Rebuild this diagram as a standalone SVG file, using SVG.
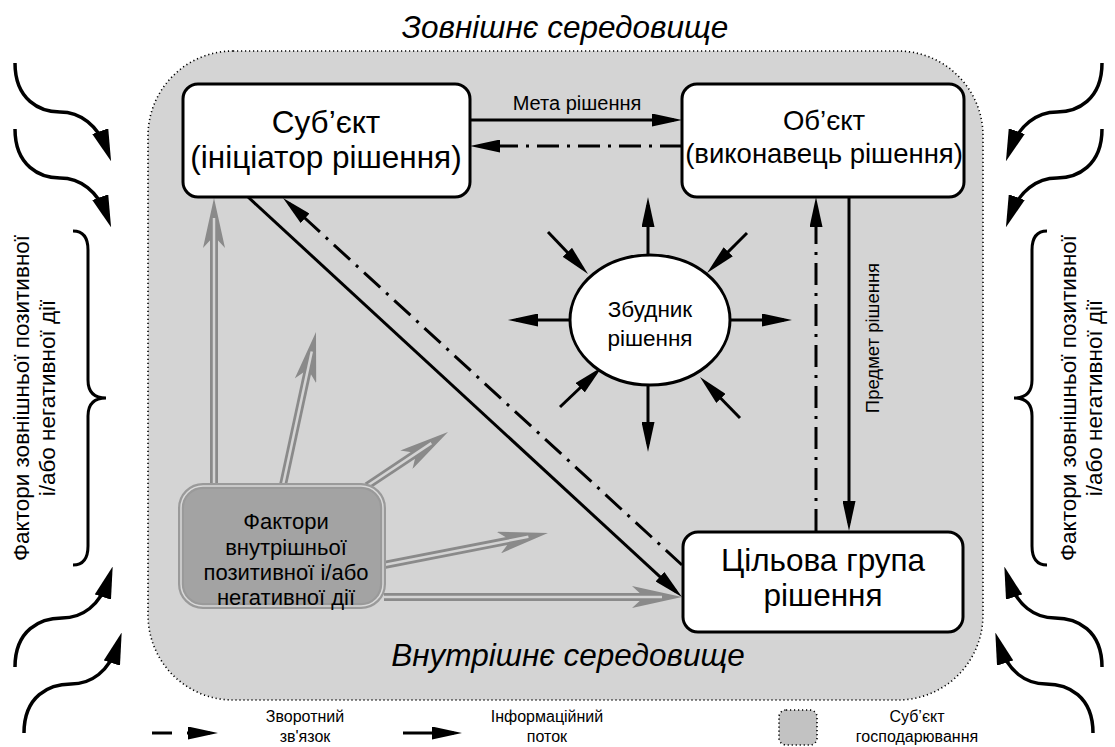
<svg xmlns="http://www.w3.org/2000/svg" width="1115" height="747" viewBox="0 0 1115 747">
<style>
text{font-family:"Liberation Sans",Arial,sans-serif;fill:#000}
.ln{stroke:#000;stroke-width:3;fill:none}
.dd{stroke:#000;stroke-width:3;fill:none;stroke-dasharray:22 8 3 8}
.node{fill:#fff;stroke:#000;stroke-width:3}
.go{stroke:#8a8a8a;stroke-width:8;fill:none}
.gi{stroke:#d4d4d4;stroke-width:2.5;fill:none}
.cv{stroke:#000;stroke-width:3.5;fill:none}
</style>
<defs>
<marker id="ah" viewBox="0 0 30 13" refX="22" refY="6.5" markerWidth="30" markerHeight="13" markerUnits="userSpaceOnUse" orient="auto"><path d="M0,0 L30,6.5 L0,13 Z" fill="#000"/></marker>
<marker id="ch" viewBox="0 0 32 17" refX="20" refY="8.5" markerWidth="32" markerHeight="17" markerUnits="userSpaceOnUse" orient="auto"><path d="M0,0 L32,8.5 L0,17 Z" fill="#000"/></marker>
<marker id="gh" viewBox="0 0 50 22" refX="20" refY="11" markerWidth="50" markerHeight="22" markerUnits="userSpaceOnUse" orient="auto"><path d="M0,0 L50,11 L0,22 L12,11 Z" fill="#8a8a8a"/></marker>
</defs>
<rect width="1115" height="747" fill="#fff"/>
<g id="environment">
<rect x="148" y="51" width="835" height="649" rx="85" ry="85" fill="#d4d4d4" stroke="#000" stroke-width="1.6" stroke-dasharray="1.2 2.8"/>
<text x="565" y="38" font-size="31.5" font-style="italic" text-anchor="middle">Зовнішнє середовище</text>
<text x="568" y="666" font-size="31.5" font-style="italic" text-anchor="middle">Внутрішнє середовище</text>
</g>
<g id="external-factors">
<path class="cv" d="M15,63 C15,100 40,112 60,112 C80,112 98,125 107,150" marker-end="url(#ch)"/>
<path class="cv" d="M15,129 C15,166 40,178 60,178 C80,178 98,191 107,216" marker-end="url(#ch)"/>
<path class="cv" d="M15,667 C15,630 40,618 62,618 C82,618 100,606 109,578" marker-end="url(#ch)"/>
<path class="cv" d="M24,733 C24,696 49,684 71,684 C91,684 109,672 118,644" marker-end="url(#ch)"/>
<path class="cv" d="M1102,63 C1102,100 1077,112 1057,112 C1037,112 1019,125 1010,150" marker-end="url(#ch)"/>
<path class="cv" d="M1102,129 C1102,166 1077,178 1057,178 C1037,178 1019,191 1010,216" marker-end="url(#ch)"/>
<path class="cv" d="M1102,667 C1102,630 1077,618 1055,618 C1035,618 1017,606 1008,578" marker-end="url(#ch)"/>
<path class="cv" d="M1093,733 C1093,696 1068,684 1046,684 C1026,684 1008,672 999,644" marker-end="url(#ch)"/>
<path class="ln" d="M73,231 Q88,231 88,250 L88,380 Q88,398 106,398 Q88,398 88,416 L88,546 Q88,565 73,565"/>
<path class="ln" d="M1047,231 Q1032,231 1032,250 L1032,380 Q1032,398 1014,398 Q1032,398 1032,416 L1032,546 Q1032,565 1047,565"/>
<text transform="translate(29,398) rotate(-90)" font-size="22.5" text-anchor="middle">Фактори зовнішньої позитивної</text>
<text transform="translate(55,398) rotate(-90)" font-size="22.5" text-anchor="middle">і/або негативної дії</text>
<text transform="translate(1076,398) rotate(-90)" font-size="22.5" text-anchor="middle">Фактори зовнішньої позитивної</text>
<text transform="translate(1102,398) rotate(-90)" font-size="22.5" text-anchor="middle">і/або негативної дії</text>
</g>
<g id="connectors">
<line class="ln" x1="470" y1="120" x2="674" y2="120" marker-end="url(#ah)"/>
<line class="dd" x1="682" y1="146" x2="478" y2="146" marker-end="url(#ah)"/>
<text x="577" y="110" font-size="20" text-anchor="middle">Мета рішення</text>
<line class="ln" x1="849" y1="196" x2="849" y2="523" marker-end="url(#ah)"/>
<line class="dd" x1="816" y1="531" x2="816" y2="205" marker-end="url(#ah)"/>
<text transform="translate(879,338) rotate(-90)" font-size="18.5" text-anchor="middle">Предмет рішення</text>
<line class="ln" x1="248" y1="197" x2="676.1" y2="591.6" marker-end="url(#ah)"/>
<line class="dd" x1="682" y1="565" x2="288.9" y2="203.4" marker-end="url(#ah)"/>
<line class="ln" x1="648" y1="255" x2="648" y2="205" marker-end="url(#ah)"/>
<line class="ln" x1="648" y1="385" x2="648" y2="444" marker-end="url(#ah)"/>
<line class="ln" x1="570" y1="320" x2="516" y2="320" marker-end="url(#ah)"/>
<line class="ln" x1="730" y1="320" x2="784" y2="320" marker-end="url(#ah)"/>
<line class="ln" x1="548" y1="232" x2="582.5" y2="268.2" marker-end="url(#ah)"/>
<line class="ln" x1="747" y1="233" x2="712.7" y2="267.3" marker-end="url(#ah)"/>
<line class="ln" x1="560" y1="407" x2="596.2" y2="372.5" marker-end="url(#ah)"/>
<line class="ln" x1="740" y1="418" x2="705.6" y2="382.7" marker-end="url(#ah)"/>
<line class="go" x1="214" y1="485" x2="214" y2="228" marker-end="url(#gh)"/>
<line class="gi" x1="214" y1="485" x2="214" y2="218"/>
<line class="go" x1="283" y1="485" x2="309.67" y2="361.33" marker-end="url(#gh)"/>
<line class="gi" x1="283" y1="485" x2="311.78" y2="351.55"/>
<line class="go" x1="367" y1="486" x2="423.04" y2="448.64" marker-end="url(#gh)"/>
<line class="gi" x1="367" y1="486" x2="431.36" y2="443.09"/>
<line class="go" x1="384" y1="565" x2="518.55" y2="538.75" marker-end="url(#gh)"/>
<line class="gi" x1="384" y1="565" x2="528.37" y2="536.83"/>
<line class="go" x1="384" y1="597" x2="652" y2="597" marker-end="url(#gh)"/>
<line class="gi" x1="384" y1="597" x2="662" y2="597"/>
</g>
<g id="subject">
<rect class="node" x="183" y="84" width="287" height="113" rx="15"/>
<text x="326" y="133" font-size="31.5" text-anchor="middle">Суб’єкт</text>
<text x="326" y="168" font-size="31.5" text-anchor="middle">(ініціатор рішення)</text>
</g>
<g id="object">
<rect class="node" x="682" y="84" width="282" height="113" rx="15"/>
<text x="824" y="130" font-size="27.5" text-anchor="middle">Об’єкт</text>
<text x="824" y="163" font-size="27.5" text-anchor="middle">(виконавець рішення)</text>
</g>
<g id="target-group">
<rect class="node" x="683" y="532" width="280" height="100" rx="15"/>
<text x="823" y="571" font-size="31.5" text-anchor="middle">Цільова група</text>
<text x="823" y="606" font-size="31.5" text-anchor="middle">рішення</text>
</g>
<g id="trigger">
<ellipse class="node" cx="650" cy="320" rx="80" ry="65"/>
<text x="650" y="317" font-size="22.5" text-anchor="middle">Збудник</text>
<text x="650" y="346" font-size="22.5" text-anchor="middle">рішення</text>
</g>
<g id="internal-factors">
<rect x="181" y="486" width="202" height="120" rx="22" fill="#a3a3a3" stroke="#9a9a9a" stroke-width="6"/>
<rect x="181" y="486" width="202" height="120" rx="22" fill="none" stroke="#d9d9d9" stroke-width="1.5"/>
<text x="286" y="529" font-size="22" text-anchor="middle">Фактори</text>
<text x="286" y="555" font-size="22" text-anchor="middle">внутрішньої</text>
<text x="286" y="580" font-size="22" text-anchor="middle">позитивної і/або</text>
<text x="286" y="605" font-size="22" text-anchor="middle">негативної дії</text>
</g>
<g id="legend">
<line class="ln" x1="152" y1="733" x2="172" y2="733"/>
<line class="ln" x1="187" y1="733" x2="210" y2="733" marker-end="url(#ah)"/>
<text x="305" y="722" font-size="16" text-anchor="middle">Зворотний</text>
<text x="305" y="742" font-size="16" text-anchor="middle">зв'язок</text>
<line class="ln" x1="403" y1="733" x2="454" y2="733" marker-end="url(#ah)"/>
<text x="547" y="722" font-size="16" text-anchor="middle">Інформаційний</text>
<text x="547" y="742" font-size="16" text-anchor="middle">поток</text>
<rect x="779" y="710" width="38" height="35" rx="7" fill="#c2c2c2" stroke="#000" stroke-width="1.6" stroke-dasharray="1.2 2.8"/>
<text x="917" y="722" font-size="16" text-anchor="middle">Суб’єкт</text>
<text x="917" y="742" font-size="16" text-anchor="middle">господарювання</text>
</g>
</svg>
